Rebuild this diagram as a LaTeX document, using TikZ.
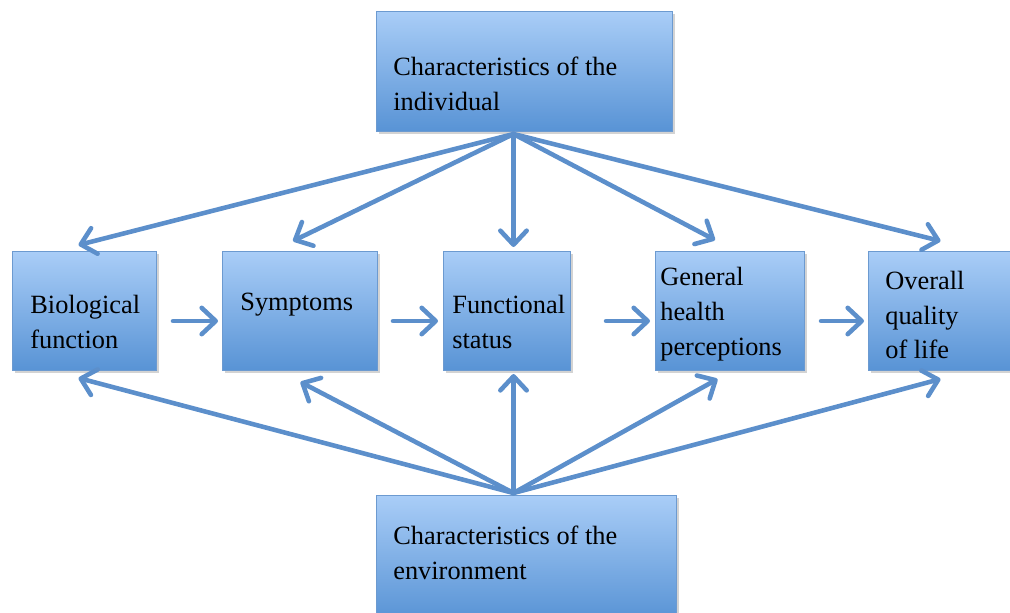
\documentclass[tikz,border=0pt]{standalone}
\usepackage{fontspec}
\setmainfont{Liberation Serif}
\usetikzlibrary{arrows.meta,shadows,calc}
\definecolor{boxtop}{HTML}{A9CDF7}
\definecolor{boxbot}{HTML}{5893D5}
\definecolor{boxedge}{HTML}{6C9AD0}
\definecolor{arr}{HTML}{5C8FCB}
\tikzset{
  box/.style={draw=boxedge, line width=0.6pt, top color=boxtop, bottom color=boxbot,
    drop shadow={shadow xshift=1.2pt, shadow yshift=-1.4pt, opacity=0.35},
    rectangle, inner sep=0pt, anchor=north west},
  txt/.style={font=\fontsize{15}{19.8}\selectfont, align=left, inner sep=0pt, anchor=west},
  conn/.style={draw=arr, line width=2.6pt, line cap=round,
    -{Straight Barb[length=8pt,width=15pt,line width=2.6pt,round]}},
}
\begin{document}
\begin{tikzpicture}[x=0.02cm,y=-0.02cm]
\useasboundingbox (0,0) rectangle (1010,612);
% boxes
\node[box, minimum width=5.92cm, minimum height=2.4cm] (top) at (376,11) {};
\node[box, minimum width=6.0cm, minimum height=2.5cm] (bot) at (376,495) {};
\node[box, minimum width=2.88cm, minimum height=2.38cm] (b1) at (12,251) {};
\node[box, minimum width=3.1cm, minimum height=2.38cm] (b2) at (222,251) {};
\node[box, minimum width=2.54cm, minimum height=2.38cm] (b3) at (443,251) {};
\node[box, minimum width=2.98cm, minimum height=2.38cm] (b4) at (655,251) {};
\node[box, minimum width=3.04cm, minimum height=2.38cm] (b5) at (868,251) {};
% texts
\node[txt] (toptxt) at (393,84) {Characteristics of the\\individual};
\node[txt] (bottxt) at (393,553) {Characteristics of the\\environment};
\node[txt] (b1txt) at (30,322) {Biological\\function};
\node[txt] (b2txt) at (240,305) {Symptoms};
\node[txt] (b3txt) at (452,322) {Functional\\status};
\node[txt] (b4txt) at (660,314) {General\\health\\perceptions};
\node[txt] (b5txt) at (885,315) {Overall\\quality\\of life};
% hubs where the fans of arrows meet
\coordinate (topsrc) at ($(top.south)+(-11,2)$);
\coordinate (botsrc) at ($(bot.north)+(-13,-2)$);
% arrows from the individual
\draw[conn] (topsrc) -- ($(b1.north)+(-6,-6)$);
\draw[conn] (topsrc) -- ($(b2.north)+(-7,-10)$);
\draw[conn] (topsrc) -- ($(b3.north)+(6.5,-4)$);
\draw[conn] (topsrc) -- ($(b4.north)+(-15,-11)$);
\draw[conn] (topsrc) -- ($(b5.north)+(-4,-10)$);
% arrows from the environment
\draw[conn] (botsrc) -- ($(b1.south)+(-6,7)$);
\draw[conn] (botsrc) -- ($(b2.south)+(0.5,11)$);
\draw[conn] (botsrc) -- ($(b3.south)+(6.5,3)$);
\draw[conn] (botsrc) -- ($(b4.south)+(-12.5,8)$);
\draw[conn] (botsrc) -- ($(b5.south)+(-4,8)$);
% chain
\draw[conn] ($(b1.east)+(16,10)$) -- ($(b2.west)+(-4,10)$);
\draw[conn] ($(b2.east)+(15,10)$) -- ($(b3.west)+(-5,10)$);
\draw[conn] ($(b3.east)+(35,10)$) -- ($(b4.west)+(-5,10)$);
\draw[conn] ($(b4.east)+(16,10)$) -- ($(b5.west)+(-4,10)$);
\end{tikzpicture}
\end{document}
